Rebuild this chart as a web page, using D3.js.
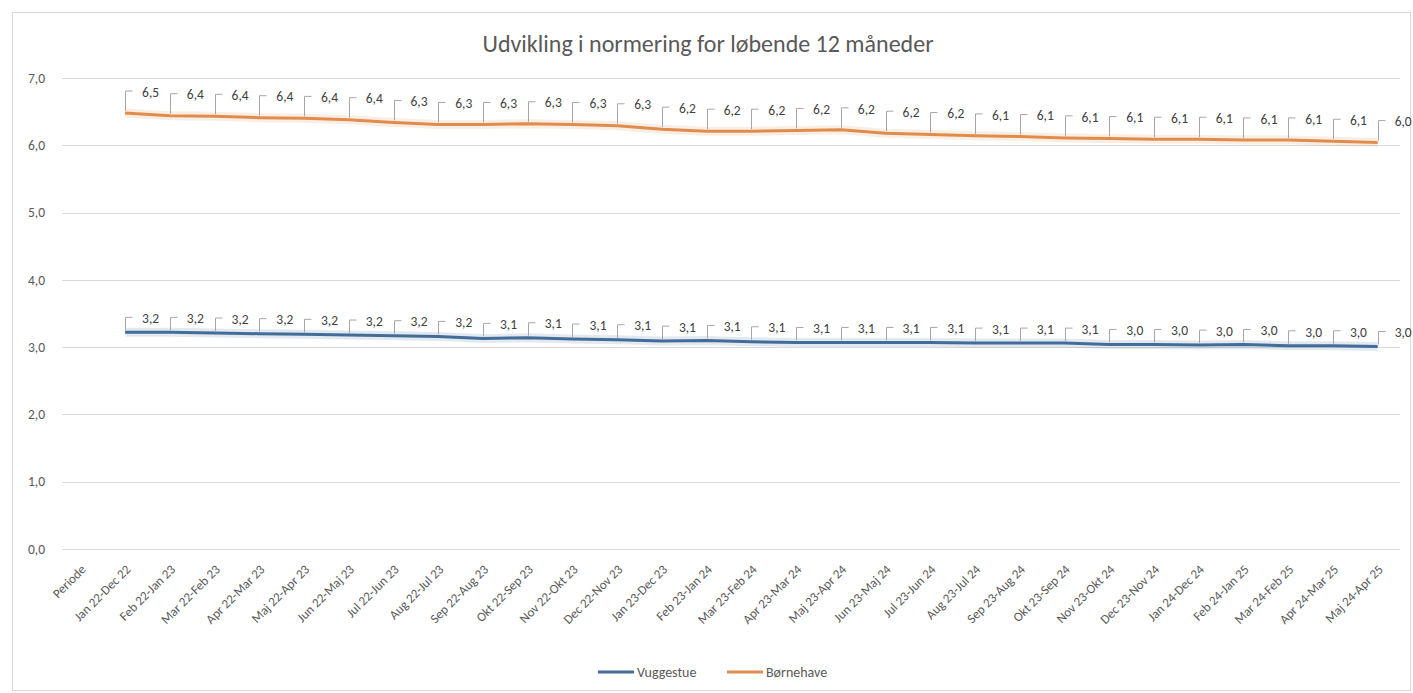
<!DOCTYPE html>
<meta charset="utf-8">
<head>
    <title>Udvikling i normering</title>
    <script type="text/javascript" src="https://cdn.jsdelivr.net/npm/d3@7"></script>
    <style>
        body { margin: 0; background: #ffffff; }
        text { font-family: Carlito, Lato, "Open Sans", sans-serif; fill: #595959; }
        .grid line { stroke: #d9d9d9; stroke-width: 1; }
        .lbl { font-size: 13.5px; fill: #404040; }
    </style>
</head>
<body>
<div id="chart"></div>
<script>
    // categories along the x axis (first one has no data)
    var categories = ["Periode", "Jan 22-Dec 22", "Feb 22-Jan 23", "Mar 22-Feb 23", "Apr 22-Mar 23",
        "Maj 22-Apr 23", "Jun 22-Maj 23", "Jul 22-Jun 23", "Aug 22-Jul 23", "Sep 22-Aug 23",
        "Okt 22-Sep 23", "Nov 22-Okt 23", "Dec 22-Nov 23", "Jan 23-Dec 23", "Feb 23-Jan 24",
        "Mar 23-Feb 24", "Apr 23-Mar 24", "Maj 23-Apr 24", "Jun 23-Maj 24", "Jul 23-Jun 24",
        "Aug 23-Jul 24", "Sep 23-Aug 24", "Okt 23-Sep 24", "Nov 23-Okt 24", "Dec 23-Nov 24",
        "Jan 24-Dec 24", "Feb 24-Jan 25", "Mar 24-Feb 25", "Apr 24-Mar 25", "Maj 24-Apr 25"]

    var vuggestue = [null, 3.22, 3.22, 3.21, 3.20, 3.19, 3.18, 3.17, 3.16, 3.13, 3.14,
        3.12, 3.11, 3.09, 3.10, 3.08, 3.07, 3.07, 3.07, 3.07, 3.06,
        3.06, 3.06, 3.04, 3.04, 3.03, 3.04, 3.02, 3.02, 3.01]

    var boernehave = [null, 6.48, 6.44, 6.43, 6.41, 6.40, 6.38, 6.34, 6.31, 6.31, 6.32,
        6.31, 6.29, 6.24, 6.21, 6.21, 6.22, 6.23, 6.18, 6.16, 6.14,
        6.13, 6.11, 6.10, 6.09, 6.09, 6.08, 6.08, 6.06, 6.04]

    var yTicks = [0, 1, 2, 3, 4, 5, 6, 7]
    var seriesNames = ["Vuggestue", "Børnehave"]
    var seriesColors = ["#426d98", "#e08c4c"]

    var width = 1413, height = 693
    var margin = {top: 78, right: 13, bottom: 144, left: 58}

    var svg = d3.select("#chart").append("svg")
        .attr("width", width)
        .attr("height", height)

    // outer frame
    svg.append("rect")
        .attr("x", 12.5).attr("y", 12.5)
        .attr("width", width - 15).attr("height", height - 15)
        .attr("fill", "#ffffff").attr("stroke", "#d9d9d9")

    var x = d3.scalePoint()
        .domain(categories)
        .range([margin.left, width - margin.right])
        .padding(0.5)

    var y = d3.scaleLinear()
        .domain([0, 7])
        .range([height - margin.bottom, margin.top])

    var comma = function(v) { return d3.format(".1f")(v).replace(".", ",") }

    // gridlines
    svg.append("g").attr("class", "grid")
        .selectAll("line")
        .data(yTicks)
        .enter().append("line")
        .attr("x1", margin.left + 4).attr("x2", width - margin.right)
        .attr("y1", function(d) { return Math.round(y(d)) + 0.5 })
        .attr("y2", function(d) { return Math.round(y(d)) + 0.5 })

    // y axis labels
    svg.append("g")
        .selectAll("text")
        .data(yTicks)
        .enter().append("text")
        .attr("x", 45)
        .attr("y", function(d) { return y(d) })
        .attr("dy", "0.35em")
        .attr("text-anchor", "end")
        .style("font-size", "13.5px")
        .text(comma)

    // x axis labels
    svg.append("g")
        .selectAll("text")
        .data(categories)
        .enter().append("text")
        .attr("transform", function(d) { return "translate(" + (x(d) + 3) + "," + (y(0) + 18) + ") rotate(-45)" })
        .attr("dy", "0.35em")
        .attr("text-anchor", "end")
        .style("font-size", "13px")
        .text(function(d) { return d })

    // title
    svg.append("text")
        .attr("x", 708)
        .attr("y", 44)
        .attr("dy", "0.35em")
        .attr("text-anchor", "middle")
        .style("font-size", "24px")
        .text("Udvikling i normering for løbende 12 måneder")

    var allSeries = [vuggestue, boernehave]

    var line = d3.line()
        .defined(function(d) { return d != null })
        .x(function(d, i) { return x(categories[i]) })
        .y(function(d) { return y(d) })

    allSeries.forEach(function(values, s) {
        var g = svg.append("g")

        // soft glow under line
        g.append("path")
            .datum(values)
            .attr("fill", "none")
            .attr("stroke", seriesColors[s])
            .attr("stroke-opacity", 0.15)
            .attr("stroke-width", 9)
            .attr("d", line)

        g.append("path")
            .datum(values)
            .attr("fill", "none")
            .attr("stroke", seriesColors[s])
            .attr("stroke-width", 3)
            .attr("stroke-linejoin", "round")
            .attr("d", line)

        var pts = values.map(function(v, i) { return {v: v, c: categories[i]} })
            .filter(function(p) { return p.v != null })

        var rise = s == 0 ? 13 : 20

        // leader lines
        g.selectAll(".leader")
            .data(pts)
            .enter().append("path")
            .attr("class", "leader")
            .attr("fill", "none")
            .attr("stroke", "#a6a6a6")
            .attr("stroke-width", 1)
            .attr("d", function(p) {
                var px = Math.round(x(p.c)) + 0.5, py = y(p.v) - 2
                return "M" + px + "," + py + "V" + (py - rise) + "H" + (px + 7)
            })

        // data labels
        g.selectAll(".lbl")
            .data(pts)
            .enter().append("text")
            .attr("class", "lbl")
            .attr("x", function(p) { return x(p.c) + 17 })
            .attr("y", function(p) { return y(p.v) - rise - 1 })
            .attr("dy", "0.35em")
            .text(function(p) { return comma(p.v) })
    })

    // legend
    var legend = svg.append("g").attr("transform", "translate(598," + 672 + ")")
    var legendX = [0, 129]
    seriesNames.forEach(function(name, i) {
        legend.append("line")
            .attr("x1", legendX[i]).attr("x2", legendX[i] + 36)
            .attr("y1", 0).attr("y2", 0)
            .attr("stroke", seriesColors[i]).attr("stroke-width", 3)
        legend.append("text")
            .attr("x", legendX[i] + 39).attr("y", 0)
            .attr("dy", "0.35em")
            .style("font-size", "14px")
            .text(name)
    })
</script>
</body>
</html>
